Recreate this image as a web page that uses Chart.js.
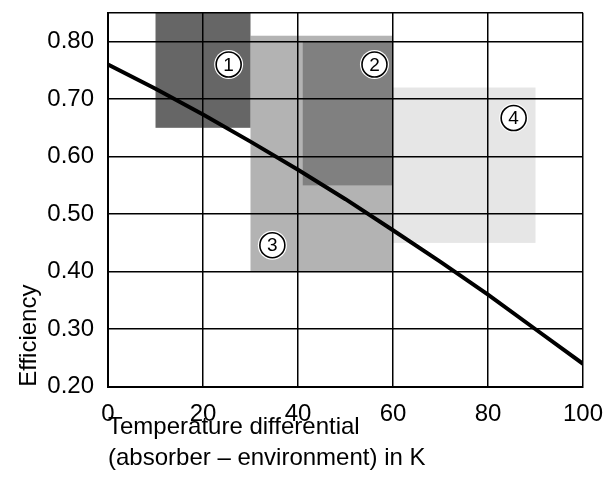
<!DOCTYPE html>
<html>
<head>
<meta charset="utf-8">
<script src="https://cdn.jsdelivr.net/npm/chart.js@4/dist/chart.umd.min.js"></script>
<style>
  html, body { margin: 0; padding: 0; background: #fff; }
  #chart { display: block; }
</style>
</head>
<body>
<canvas id="chart" width="603" height="479"></canvas>
<script>
// collector efficiency curve
const tempDiff = [0, 10, 20, 30, 40, 50, 60, 70, 80, 90, 100];
const efficiency = [0.76, 0.718, 0.673, 0.626, 0.577, 0.526, 0.472, 0.417, 0.36, 0.30, 0.24];

// operating zones (drawn in this order, back to front)
const zoneNames = ['4', '3', '1', '2'];
const zoneXFrom = [60, 30, 10, 41];
const zoneXTo = [90, 60, 30, 60];
const zoneYFrom = [0.45, 0.40, 0.65, 0.55];
const zoneYTo = [0.72, 0.81, 0.85, 0.80];
const zoneColors = ['#e6e6e6', '#b3b3b3', '#666666', '#808080'];

// circled number markers
const markerNames = ['1', '2', '3', '4'];
const markerX = [25.4, 56.1, 34.6, 85.4];
const markerY = [0.760, 0.760, 0.446, 0.667];

const yTicks = [0.2, 0.3, 0.4, 0.5, 0.6, 0.7, 0.8];

const FONT = "'Liberation Sans', Arial, sans-serif";

const zonePlugin = {
    id: 'zones',
    beforeDraw(chart) {
        const ctx = chart.ctx;
        const xs = chart.scales.x;
        const ys = chart.scales.y;
        ctx.save();
        zoneNames.forEach((name, i) => {
            const x0 = xs.getPixelForValue(zoneXFrom[i]);
            const x1 = xs.getPixelForValue(zoneXTo[i]);
            const y0 = ys.getPixelForValue(zoneYTo[i]);
            const y1 = ys.getPixelForValue(zoneYFrom[i]);
            ctx.fillStyle = zoneColors[i];
            ctx.fillRect(x0, y0, x1 - x0, y1 - y0);
        });
        ctx.restore();
    }
};

const markerPlugin = {
    id: 'markers',
    afterDatasetsDraw(chart) {
        const ctx = chart.ctx;
        const xs = chart.scales.x;
        const ys = chart.scales.y;
        ctx.save();
        markerNames.forEach((name, i) => {
            const cx = xs.getPixelForValue(markerX[i]);
            const cy = ys.getPixelForValue(markerY[i]);
            // white halo
            ctx.beginPath();
            ctx.arc(cx, cy, 14.5, 0, Math.PI * 2);
            ctx.fillStyle = '#fff';
            ctx.fill();
            ctx.beginPath();
            ctx.arc(cx, cy, 12.5, 0, Math.PI * 2);
            ctx.lineWidth = 1.6;
            ctx.strokeStyle = '#000';
            ctx.stroke();
            ctx.fillStyle = '#000';
            ctx.font = '19px ' + FONT;
            ctx.textAlign = 'center';
            ctx.textBaseline = 'middle';
            ctx.fillText(name, cx, cy + 1);
        });
        ctx.restore();
    }
};

new Chart(document.getElementById('chart'), {
    type: 'line',
    data: {
        datasets: [{
            data: tempDiff.map((t, i) => ({ x: t, y: efficiency[i] })),
            borderColor: '#000',
            borderWidth: 4,
            pointRadius: 0,
            tension: 0,
            fill: false
        }]
    },
    options: {
        responsive: false,
        animation: false,
        devicePixelRatio: 1,
        layout: { padding: { top: 12.7, right: 20, left: 14.5, bottom: 5 } },
        plugins: {
            legend: { display: false },
            tooltip: { enabled: false }
        },
        scales: {
            x: {
                type: 'linear',
                min: 0,
                max: 100,
                afterFit(scale) {
                    // don't let tick padding push the plot area in
                    scale.paddingLeft = 0;
                    scale.paddingRight = 0;
                },
                ticks: {
                    stepSize: 20,
                    color: '#000',
                    padding: 13,
                    font: { family: FONT, size: 24 }
                },
                grid: { color: '#000', lineWidth: 1.5, drawTicks: false },
                border: { color: '#000', width: 2 },
                title: {
                    display: true,
                    align: 'start',
                    text: ['Temperature differential', '(absorber \u2013 environment) in K'],
                    color: '#000',
                    font: { family: FONT, size: 24, lineHeight: 1.3 },
                    padding: { top: -30, bottom: 0 }
                }
            },
            y: {
                type: 'linear',
                min: 0.2,
                max: 0.85,
                afterBuildTicks(scale) {
                    scale.ticks = yTicks.concat([0.85]).map(v => ({ value: v }));
                },
                afterFit(scale) {
                    scale.paddingTop = 0;
                    scale.paddingBottom = 0;
                },
                ticks: {
                    autoSkip: false,
                    color: '#000',
                    padding: 14,
                    font: { family: FONT, size: 24 },
                    callback: v => (yTicks.some(t => Math.abs(t - v) < 1e-6) ? v.toFixed(2) : '')
                },
                grid: { color: '#000', lineWidth: 1.5, drawTicks: false },
                border: { color: '#000', width: 2 },
                title: {
                    display: true,
                    align: 'start',
                    text: 'Efficiency',
                    color: '#000',
                    font: { family: FONT, size: 24 },
                    padding: { top: 0, bottom: -10 }
                }
            }
        }
    },
    plugins: [zonePlugin, markerPlugin]
});
</script>
</body>
</html>
